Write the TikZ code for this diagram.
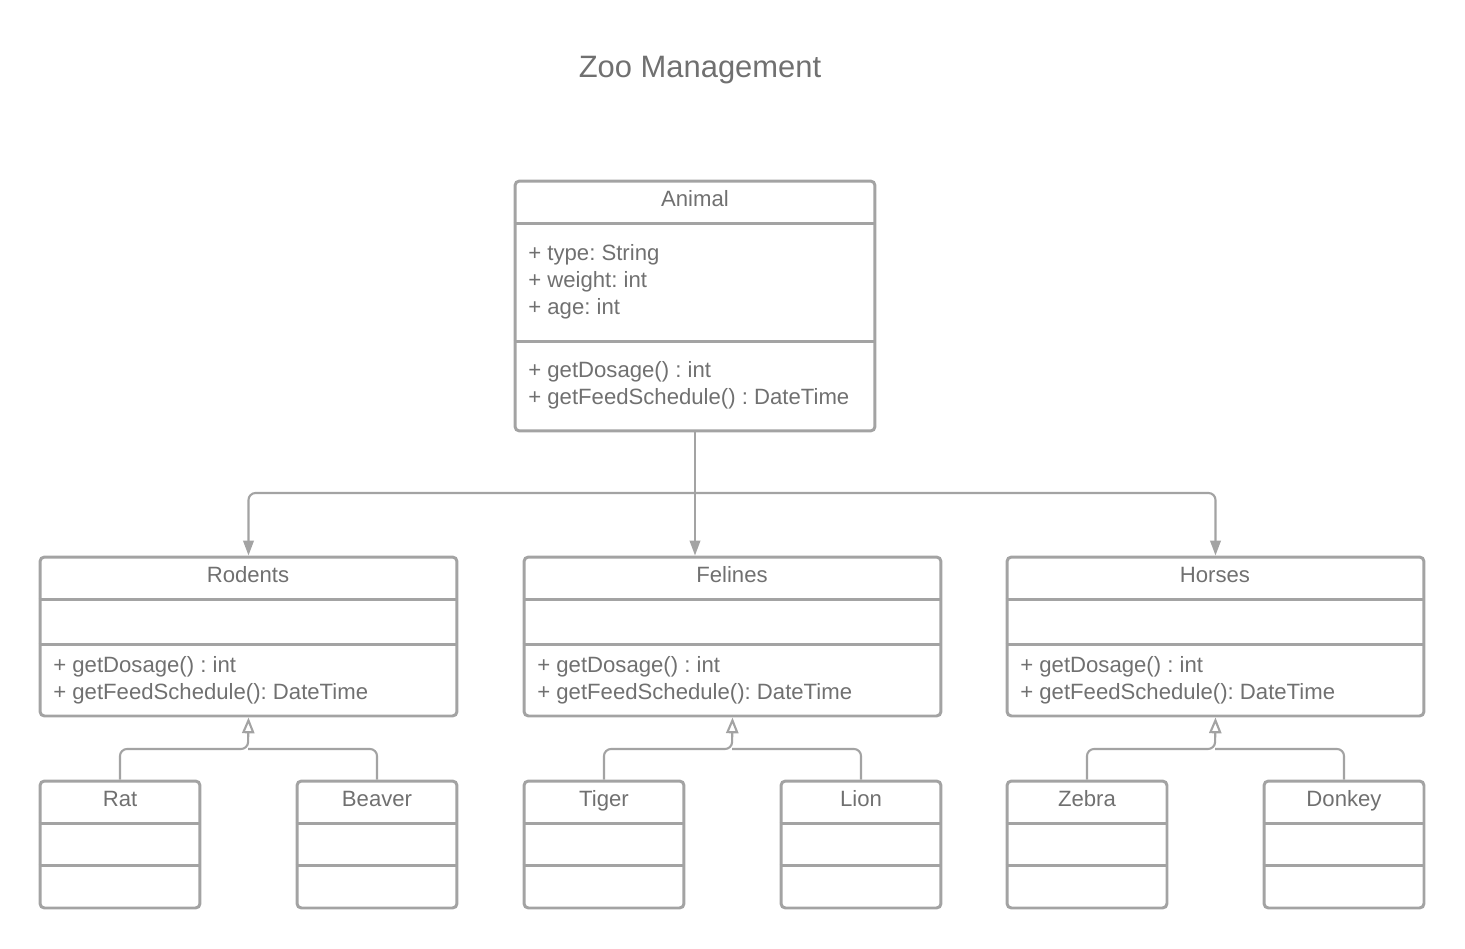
\documentclass[tikz,border=0pt]{standalone}
\usepackage{fontspec}
\setmainfont{Liberation Sans}
\usetikzlibrary{arrows.meta,positioning}
\definecolor{umlline}{RGB}{163,163,163}
\definecolor{umltext}{RGB}{112,112,112}
\frenchspacing

\begin{document}
\begin{tikzpicture}[x=0.02cm, y=-0.02cm,
    every node/.style={font=\fontsize{12.6}{15.4}\selectfont, text=umltext},
    classbox/.style={draw=umlline, line width=1.7pt, rounded corners=2.5pt, inner sep=0pt},
    bigclass/.style={classbox, minimum width=8.34cm, minimum height=3.18cm},
    smallclass/.style={classbox, minimum width=3.2cm, minimum height=2.54cm},
    classname/.style={anchor=base, inner sep=0pt},
    divider/.style={draw=umlline, line width=1.7pt},
    members/.style={align=left, anchor=west, inner sep=0pt},
    link/.style={draw=umlline, line width=1.2pt, rounded corners=4pt},
    extends/.style={link, -{Triangle[length=8.5pt, width=6pt]}},
    inherits/.style={link, -{Triangle[open, fill=white, length=9pt, width=7pt]}}]

    \useasboundingbox (0,0) rectangle (1465,948);

    % ---- Title ----
    \node[font=\fontsize{17.6}{21}\selectfont] (title) at (700,70) {Zoo Management};

    % ---- Animal ----
    \node[classbox, minimum width=7.2cm, minimum height=5cm] (animal) at (695,306) {};
    \draw[divider] (animal.west |- 0,223) -- (animal.east |- 0,223);
    \draw[divider] (animal.west |- 0,341) -- (animal.east |- 0,341);
    \node[classname] (animalname) at (695,206) {Animal};
    \node[members] (animalattr) at (528,282) {+ type: String\\+ weight: int\\+ age: int};
    \node[members] (animalops) at (528,385) {+ getDosage() : int\\+ getFeedSchedule() : DateTime};

    % ---- Rodents / Felines / Horses ----
    \node[bigclass] (rodents) at (248.5,636.5) {};
    \node[bigclass] (felines) at (732.5,636.5) {};
    \node[bigclass] (horses) at (1215.5,636.5) {};
    \foreach \c in {rodents,felines,horses} {
      \draw[divider] (\c.west |- 0,599) -- (\c.east |- 0,599);
      \draw[divider] (\c.west |- 0,644) -- (\c.east |- 0,644);
    }
    \node[classname] (rodentsname) at (248,582) {Rodents};
    \node[classname] (felinesname) at (732,582) {Felines};
    \node[classname] (horsesname) at (1215,582) {Horses};
    \node[members] (rodentsops) at (53,680.5) {+ getDosage() : int\\+ getFeedSchedule(): DateTime};
    \node[members] (felinesops) at (537,680.5) {+ getDosage() : int\\+ getFeedSchedule(): DateTime};
    \node[members] (horsesops) at (1020,680.5) {+ getDosage() : int\\+ getFeedSchedule(): DateTime};

    % ---- Leaf classes ----
    \node[smallclass] (rat) at (120,844.5) {};
    \node[smallclass] (beaver) at (377,844.5) {};
    \node[smallclass] (tiger) at (604,844.5) {};
    \node[smallclass] (lion) at (861,844.5) {};
    \node[smallclass] (zebra) at (1087,844.5) {};
    \node[smallclass] (donkey) at (1344,844.5) {};
    \foreach \c in {rat,beaver,tiger,lion,zebra,donkey} {
      \draw[divider] (\c.west |- 0,823) -- (\c.east |- 0,823);
      \draw[divider] (\c.west |- 0,865) -- (\c.east |- 0,865);
    }
    \node[classname] (ratname) at (120,806) {Rat};
    \node[classname] (beavername) at (377,806) {Beaver};
    \node[classname] (tigername) at (604,806) {Tiger};
    \node[classname] (lionname) at (861,806) {Lion};
    \node[classname] (zebraname) at (1087,806) {Zebra};
    \node[classname] (donkeyname) at (1344,806) {Donkey};

    % ---- Animal -> groups ----
    \coordinate (split) at (695,493);
    \draw[link] (animal.south) -- (split);
    \draw[extends] (split) -| (rodents.north);
    \draw[extends] (split) -| (horses.north);
    \draw[extends] (split) -- (split |- felines.north);

    % ---- Leaves -> groups ----
    \coordinate (rodjoin) at (248,749);
    \coordinate (feljoin) at (732,749);
    \coordinate (horjoin) at (1215,749);
    \draw[inherits] (rat.north) |- (rodjoin) -- (rodents.south);
    \draw[link] (beaver.north) |- (rodjoin);
    \draw[inherits] (tiger.north) |- (feljoin) -- (felines.south);
    \draw[link] (lion.north) |- (feljoin);
    \draw[inherits] (zebra.north) |- (horjoin) -- (horses.south);
    \draw[link] (donkey.north) |- (horjoin);

\end{tikzpicture}
\end{document}
